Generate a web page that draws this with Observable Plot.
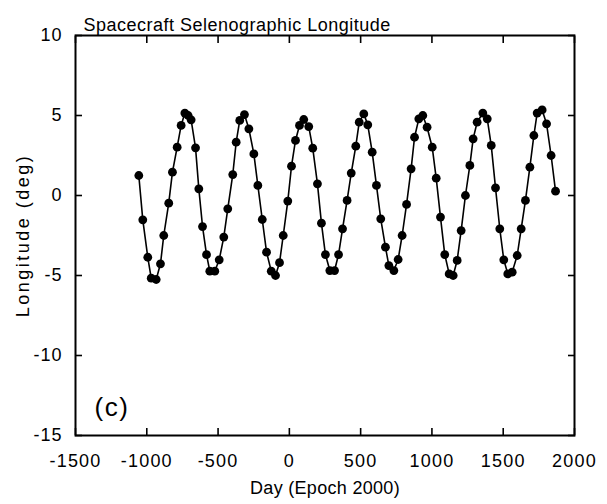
<!DOCTYPE html>
<html><head><meta charset="utf-8">
<script src="https://cdn.jsdelivr.net/npm/d3@7"></script>
<script src="https://cdn.jsdelivr.net/npm/@observablehq/plot@0.6"></script>
<style>
body{margin:0;background:#fff;}
</style></head><body><div id="chart"></div>
<script>
const days = [-1056,-1028,-993,-969,-934,-904,-881,-846,-820,-787,-759,-733,-710,-689,-658,-635,-609,-581,-558,-523,-492,-460,-432,-397,-373,-348,-315,-284,-249,-221,-190,-160,-127,-97,-69,-43,-11,15,43,71,101,136,164,197,225,253,284,317,345,373,405,434,466,490,522,550,581,611,641,674,698,733,763,791,822,854,878,908,936,966,1002,1030,1060,1090,1121,1149,1177,1205,1235,1266,1289,1317,1357,1388,1416,1446,1476,1504,1532,1563,1598,1626,1656,1687,1715,1738,1773,1804,1836,1867];
const longitude = [1.25,-1.52,-3.86,-5.17,-5.25,-4.27,-2.5,-0.48,1.46,3.02,4.38,5.15,5.0,4.73,2.98,0.42,-1.94,-3.7,-4.73,-4.73,-4.02,-2.6,-0.83,1.31,3.33,4.69,5.06,4.17,2.6,0.63,-1.5,-3.54,-4.73,-5.0,-4.2,-2.5,-0.35,1.83,3.44,4.38,4.75,4.31,2.96,0.73,-1.73,-3.69,-4.69,-4.69,-3.69,-2.08,-0.31,1.4,3.08,4.58,5.1,4.42,2.71,0.63,-1.46,-3.23,-4.38,-4.69,-4.0,-2.5,-0.56,1.67,3.64,4.79,5.0,4.27,3.02,1.08,-1.35,-3.69,-4.9,-5.0,-4.06,-2.19,0.0,1.88,3.54,4.58,5.15,4.79,3.13,0.48,-2.08,-4.02,-4.9,-4.79,-3.75,-2.08,-0.31,1.77,3.75,5.15,5.35,4.48,2.5,0.27];
const xTicks = [-1500,-1000,-500,0,500,1000,1500,2000];
const yTicks = [-15,-10,-5,0,5,10];
const titleText = "Spacecraft Selenographic Longitude";
const xLabel = "Day (Epoch 2000)";
const yLabel = "Longitude (deg)";
const panelLabel = "(c)";

const data = days.map((d, i) => ({day: d, lon: longitude[i]}));
const fmt = d => String(d);

const chart = Plot.plot({
  width: 607, height: 504,
  marginTop: 35, marginRight: 33, marginBottom: 69, marginLeft: 75,
  style: {fontFamily: "'Liberation Sans', Arial, Helvetica, sans-serif", background: "#fff", color: "#000"},
  x: {domain: [-1500, 2000]},
  y: {domain: [-15, 10]},
  marks: [
    Plot.axisX(xTicks, {anchor: "bottom", label: null, tickSize: -7, strokeWidth: 1.6, tickPadding: 26, tickFormat: fmt, fontSize: 18, color: "#000"}),
    Plot.axisX(xTicks, {anchor: "top", label: null, tickSize: -7, strokeWidth: 1.6, tickFormat: () => "", color: "#000"}),
    Plot.axisY(yTicks, {anchor: "left", label: null, tickSize: -7, strokeWidth: 1.6, tickPadding: 20, tickFormat: fmt, fontSize: 18, color: "#000"}),
    Plot.axisY(yTicks, {anchor: "right", label: null, tickSize: -7, strokeWidth: 1.6, tickFormat: () => "", color: "#000"}),
    Plot.frame({stroke: "#000", strokeWidth: 2}),
    Plot.line(data, {x: "day", y: "lon", stroke: "#000", strokeWidth: 1.6}),
    Plot.dot(data, {x: "day", y: "lon", r: 4.4, fill: "#000", stroke: "none"}),
    Plot.text([titleText], {frameAnchor: "top-left", dx: 8, dy: -17, textAnchor: "start", fontSize: 18, fill: "#000"}),
    Plot.text([xLabel], {frameAnchor: "bottom", dy: 58, textAnchor: "middle", fontSize: 18, fill: "#000"}),
    Plot.text([yLabel], {frameAnchor: "left", dx: -52, rotate: -90, textAnchor: "middle", fontSize: 18, fill: "#000"}),
    Plot.text([panelLabel], {frameAnchor: "bottom-left", dx: 19, dy: -20, textAnchor: "start", fontSize: 26, fill: "#000"})
  ]
});
document.getElementById("chart").appendChild(chart);

const svg = d3.select(chart);
svg.selectAll('g[aria-label="x-axis tick label"] text').style("letter-spacing", "1.2px");
svg.selectAll('g[aria-label="y-axis tick label"] text').style("letter-spacing", "1px");
const spacing = new Map([[titleText, "0.5px"], [xLabel, "0.3px"], [yLabel, "2.5px"], [panelLabel, "1.5px"]]);
svg.selectAll("text").each(function() {
  const s = spacing.get(this.textContent);
  if (s) this.style.letterSpacing = s;
});
</script>
</body></html>
